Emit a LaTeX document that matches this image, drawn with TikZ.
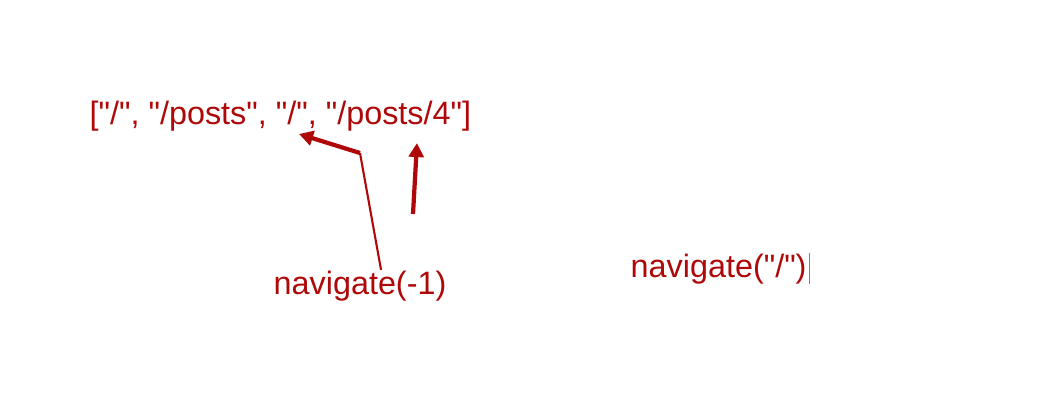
\documentclass[tikz,border=0pt]{standalone}
\usepackage{fontspec}
\setmainfont[Ligatures=TeXOff]{Liberation Sans}
\usetikzlibrary{arrows.meta}
\usetikzlibrary{positioning}
\definecolor{navred}{RGB}{175,8,8}

\begin{document}
\begin{tikzpicture}[x=0.01cm,y=-0.01cm]
 \useasboundingbox (0,0) rectangle (1051,415);
 \tikzstyle{txt} = [inner sep=0pt, anchor=base west, text=navred, font=\fontsize{9.2}{11}\selectfont];
 \node (history) [txt] at (89,124) {["/", "/posts", "/", "/posts/4"]};
 \node (back) [txt] at (273,294) {navigate(-1)};
 \node (push) [txt] at (630,277) {navigate("/")};

 \coordinate (bend) at (360,153);
 \coordinate (prev) at (299,134);
 \coordinate (foot) at (413,214);
 \coordinate (current) at (417,143);

 \tikzstyle{C} = [color=navred, line width=1.2pt, -{Triangle[length=4pt,width=4.2pt]}];

 \draw [navred, line width=0.6pt] ([xshift=0.21cm]back.north) -- (bend);
 \draw [C] (bend) -- (prev);
 \draw [C] (foot) -- (current);
 \draw [gray, line width=0.4pt] ([xshift=0.7pt]push.north east) -- ([xshift=0.7pt]push.south east);

\end{tikzpicture}
\end{document}
